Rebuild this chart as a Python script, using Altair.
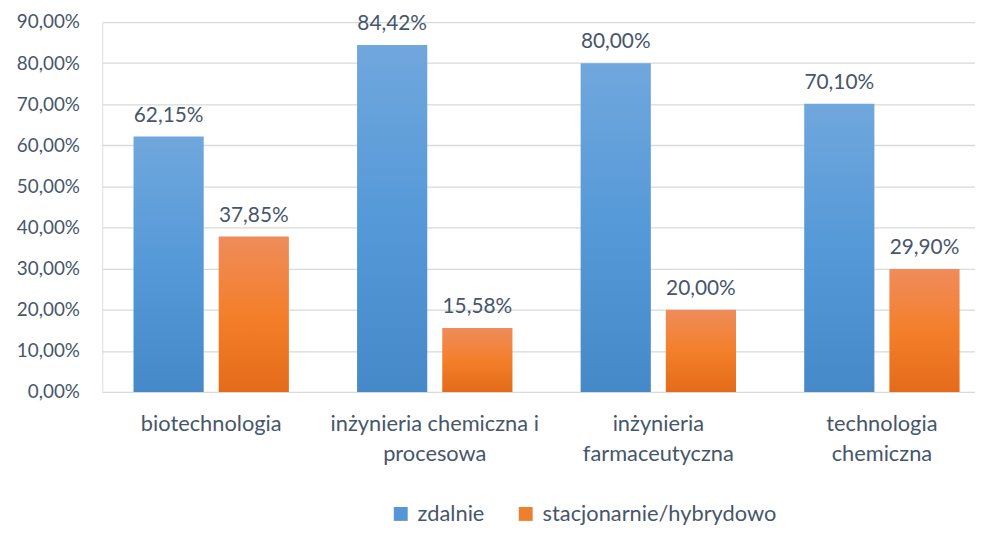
import altair as alt
import pandas as pd

categories = ["biotechnologia", "inżynieria chemiczna i|procesowa", "inżynieria|farmaceutyczna", "technologia|chemiczna"]
series = ["zdalnie", "stacjonarnie/hybrydowo"]
zdalnie = [62.15, 84.42, 80.00, 70.10]
stacjonarnie = [37.85, 15.58, 20.00, 29.90]
y_ticks = [0, 10, 20, 30, 40, 50, 60, 70, 80, 90]

rows = []
for c, a, b in zip(categories, zdalnie, stacjonarnie):
    rows.append({"kat": c, "seria": series[0], "v": a})
    rows.append({"kat": c, "seria": series[1], "v": b})
df = pd.DataFrame(rows)

FONT = "Lato"
TXT = "#46566b"

blue_grad = alt.Gradient(gradient="linear", x1=0, x2=0, y1=0, y2=1,
                         stops=[alt.GradientStop(color="#70a7dd", offset=0),
                                alt.GradientStop(color="#5599d8", offset=0.5),
                                alt.GradientStop(color="#4589c8", offset=1)])
orange_grad = alt.Gradient(gradient="linear", x1=0, x2=0, y1=0, y2=1,
                           stops=[alt.GradientStop(color="#ef8c5b", offset=0),
                                  alt.GradientStop(color="#f47f2b", offset=0.5),
                                  alt.GradientStop(color="#e46b19", offset=1)])

base = alt.Chart(df).encode(
    x=alt.X("kat:N", sort=categories,
            scale=alt.Scale(domain=categories, range=[0, 896], paddingInner=0.305, paddingOuter=0.14),
            axis=alt.Axis(title=None, labelAngle=0, domain=False, ticks=False,
                          labelExpr="split(datum.label, '|')", labelLineHeight=30,
                          labelPadding=22, labelFontSize=22, labelFont=FONT,
                          labelColor=TXT, labelLimit=0, grid=False)),
    xOffset=alt.XOffset("seria:N", sort=series,
                        scale=alt.Scale(domain=series, paddingInner=0.176, paddingOuter=0)),
    y=alt.Y("v:Q", scale=alt.Scale(domain=[0, 90], nice=False),
            axis=alt.Axis(title=None, values=y_ticks, domain=False, ticks=False,
                          labelExpr="replace(format(datum.value, '.2f'), '.', ',') + '%'",
                          labelPadding=23, labelFontSize=19, labelFont=FONT,
                          labelColor=TXT, gridColor="#d9d9d9", gridWidth=1.3)),
)

legend_layer = base.mark_bar(opacity=0).encode(
    color=alt.Color("seria:N", sort=series,
                    scale=alt.Scale(domain=series, range=["#5597d6", "#f07f2d"]),
                    legend=alt.Legend(title=None, orient="none", direction="horizontal",
                                      legendX=290, legendY=485, symbolType="square",
                                      symbolSize=196, symbolOpacity=1, symbolStrokeWidth=0,
                                      labelFontSize=22, labelFont=FONT, labelColor=TXT,
                                      labelLimit=0, columnPadding=30, labelOffset=6))
)

bars_blue = base.transform_filter(alt.datum.seria == series[0]).mark_bar(fill=blue_grad)
bars_orange = base.transform_filter(alt.datum.seria == series[1]).mark_bar(fill=orange_grad)

labels = base.transform_calculate(
    lab="replace(format(datum.v, '.2f'), '.', ',') + '%'"
).mark_text(baseline="alphabetic", dy=-15, fontSize=21, font=FONT, color=TXT).encode(
    text="lab:N"
)

chart = alt.layer(legend_layer, bars_blue, bars_orange, labels).properties(
    width=880, height=373,
    autosize=alt.AutoSizeParams(type="none"),
    padding={"left": 95, "top": 12, "right": 0, "bottom": 133},
).configure_view(stroke=None).configure(background="white")

chart.save("out.html", embed_options={"renderer": "svg", "actions": False})
